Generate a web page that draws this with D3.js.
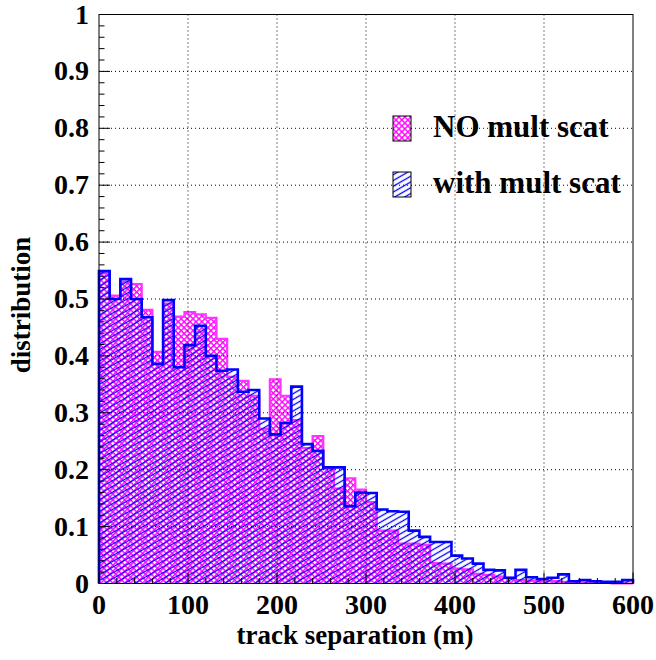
<!DOCTYPE html>
<html>
<head>
<meta charset="utf-8">
<script src="https://cdn.jsdelivr.net/npm/d3@7"></script>
<style>
  body { margin: 0; background: #fff; }
  text { font-family: "Liberation Serif", "Times New Roman", serif; font-weight: bold; fill: #000; }
</style>
</head>
<body>
<div id="chart"></div>
<script>
// histogram: 50 bins of 12 m from 0 to 600
var binWidth = 12;
var xMax = 600;

// NO mult scat (magenta)
var noMultScat = [0.545, 0.506, 0.530, 0.526, 0.481, 0.407, 0.492, 0.469, 0.477, 0.473,
  0.467, 0.430, 0.363, 0.356, 0.330, 0.272, 0.359, 0.330, 0.287, 0.238,
  0.259, 0.202, 0.167, 0.185, 0.165, 0.143, 0.093, 0.093, 0.070, 0.070,
  0.068, 0.036, 0.035, 0.026, 0.025, 0.017, 0.015, 0.012, 0.010, 0.006,
  0.005, 0.004, 0.004, 0.003, 0.002, 0.001, 0.001, 0.001, 0.000, 0.000];

// with mult scat (blue)
var withMultScat = [0.549, 0.500, 0.535, 0.500, 0.468, 0.386, 0.498, 0.380, 0.419, 0.453,
  0.400, 0.374, 0.376, 0.337, 0.340, 0.290, 0.262, 0.282, 0.346, 0.245,
  0.233, 0.204, 0.204, 0.136, 0.160, 0.159, 0.130, 0.127, 0.126, 0.093,
  0.082, 0.073, 0.073, 0.049, 0.044, 0.035, 0.024, 0.023, 0.010, 0.024,
  0.011, 0.008, 0.010, 0.016, 0.004, 0.006, 0.004, 0.003, 0.003, 0.006];

var xTicks = [0, 100, 200, 300, 400, 500, 600];
var yTicks = [0, 0.1, 0.2, 0.3, 0.4, 0.5, 0.6, 0.7, 0.8, 0.9, 1];
var yTickLabels = ['0', '0.1', '0.2', '0.3', '0.4', '0.5', '0.6', '0.7', '0.8', '0.9', '1'];

var legendItems = [
  { label: 'NO mult scat', fill: 'url(#crossMag)' },
  { label: 'with mult scat', fill: 'url(#hatchBlue)' }
];

var width = 656, height = 660;
var padL = 99, padR = 633, padT = 14.5, padB = 583.5;

var svg = d3.select('#chart').append('svg')
  .attr('width', width)
  .attr('height', height);

var x = d3.scaleLinear().domain([0, xMax]).range([padL, padR]);
var y = d3.scaleLinear().domain([0, 1]).range([padB, padT]);

// fill patterns
var defs = svg.append('defs');
var pm = defs.append('pattern')
  .attr('id', 'crossMag')
  .attr('patternUnits', 'userSpaceOnUse')
  .attr('width', 4.2).attr('height', 4.2)
  .attr('patternTransform', 'rotate(45)');
pm.append('rect').attr('width', 4.2).attr('height', 4.2).attr('fill', '#fff');
pm.append('line').attr('x1', 0).attr('y1', 0.7).attr('x2', 4.2).attr('y2', 0.7)
  .attr('stroke', '#ff00ff').attr('stroke-width', 1.4);
pm.append('line').attr('x1', 0.7).attr('y1', 0).attr('x2', 0.7).attr('y2', 4.2)
  .attr('stroke', '#ff00ff').attr('stroke-width', 1.4);

var pb = defs.append('pattern')
  .attr('id', 'hatchBlue')
  .attr('patternUnits', 'userSpaceOnUse')
  .attr('width', 10).attr('height', 5)
  .attr('patternTransform', 'rotate(-30)');
pb.append('line').attr('x1', 0).attr('y1', 2.5).attr('x2', 10).attr('y2', 2.5)
  .attr('stroke', '#0000ff').attr('stroke-width', 1.3);

// step outline of a histogram
function stepPoints(vals) {
  var pts = [[x(0), y(0)]];
  vals.forEach(function(v, i) {
    pts.push([x(i * binWidth), y(v)]);
    pts.push([x((i + 1) * binWidth), y(v)]);
  });
  pts.push([x(vals.length * binWidth), y(0)]);
  return pts;
}

var line = d3.line();

// NO mult scat
var pMag = stepPoints(noMultScat);
svg.append('path')
  .attr('d', line(pMag) + 'Z')
  .attr('fill', 'url(#crossMag)')
  .attr('stroke', 'none');
svg.append('path')
  .attr('d', line(pMag))
  .attr('fill', 'none')
  .attr('stroke', '#ff33ff')
  .attr('stroke-width', 2.2);

// with mult scat
var pBlue = stepPoints(withMultScat);
svg.append('path')
  .attr('d', line(pBlue) + 'Z')
  .attr('fill', 'url(#hatchBlue)')
  .attr('stroke', 'none');
svg.append('path')
  .attr('d', line(pBlue))
  .attr('fill', 'none')
  .attr('stroke', '#0000ff')
  .attr('stroke-width', 2.6);

// grid
var grid = svg.append('g')
  .attr('stroke', '#000')
  .attr('stroke-width', 1)
  .attr('stroke-dasharray', '1,3');
grid.selectAll('.gx').data(xTicks.slice(1, -1)).enter().append('line')
  .attr('x1', function(d) { return x(d); }).attr('x2', function(d) { return x(d); })
  .attr('y1', padT).attr('y2', padB);
grid.selectAll('.gy').data(yTicks.slice(1, -1)).enter().append('line')
  .attr('y1', function(d) { return y(d); }).attr('y2', function(d) { return y(d); })
  .attr('x1', padL).attr('x2', padR);

// frame
svg.append('rect')
  .attr('x', padL).attr('y', padT)
  .attr('width', padR - padL).attr('height', padB - padT)
  .attr('fill', 'none').attr('stroke', '#000').attr('stroke-width', 1);

// ticks
var tk = svg.append('g').attr('stroke', '#000').attr('stroke-width', 1);
d3.range(0, xMax + 1, 20).forEach(function(v) {
  var len = (v % 100 === 0) ? 11 : 5.5;
  tk.append('line').attr('x1', x(v)).attr('x2', x(v))
    .attr('y1', padB).attr('y2', padB - len);
});
d3.range(0, 51).forEach(function(i) {
  var v = i * 0.02;
  var len = (i % 5 === 0) ? 11 : 5.5;
  tk.append('line').attr('x1', padL).attr('x2', padL + len)
    .attr('y1', y(v)).attr('y2', y(v));
});

// tick labels
svg.selectAll('.xl').data(xTicks).enter().append('text')
  .attr('x', function(d) { return x(d); })
  .attr('y', 614)
  .attr('text-anchor', 'middle')
  .style('font-size', '28px')
  .text(function(d) { return d; });

svg.selectAll('.yl').data(yTicks).enter().append('text')
  .attr('x', 89)
  .attr('y', function(d) { return y(d) + 9; })
  .attr('text-anchor', 'end')
  .style('font-size', '28px')
  .text(function(d, i) { return yTickLabels[i]; });

// axis titles
svg.append('text')
  .attr('x', 355)
  .attr('y', 644)
  .attr('text-anchor', 'middle')
  .style('font-size', '27px')
  .text('track separation (m)');

svg.append('text')
  .attr('transform', 'translate(30,305) rotate(-90)')
  .attr('text-anchor', 'middle')
  .style('font-size', '27px')
  .text('distribution');

// legend
var lg = svg.selectAll('.legend').data(legendItems).enter().append('g')
  .attr('class', 'legend')
  .attr('transform', function(d, i) { return 'translate(393,' + (116 + i * 56) + ')'; });
lg.append('rect')
  .attr('width', 18).attr('height', 25)
  .attr('fill', function(d) { return d.fill; })
  .attr('stroke', '#000')
  .attr('stroke-width', 1);
lg.append('text')
  .attr('x', 40)
  .attr('y', 21)
  .style('font-size', '31px')
  .text(function(d) { return d.label; });
</script>
</body>
</html>
